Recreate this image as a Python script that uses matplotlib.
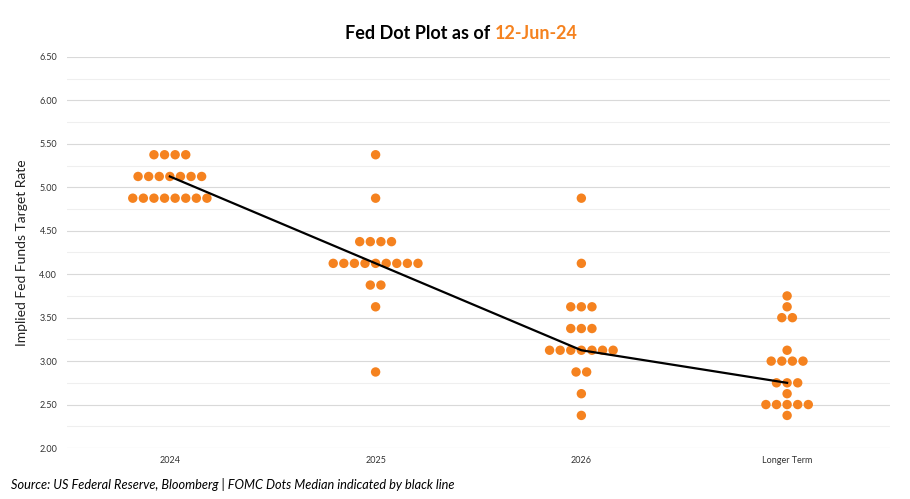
import numpy as np
import matplotlib
matplotlib.use("Agg")
import matplotlib.pyplot as plt
from matplotlib.ticker import MultipleLocator, FormatStrFormatter

categories = ["2024", "2025", "2026", "Longer Term"]
# (rate, count) pairs per category
dots_2024 = [(5.375, 4), (5.125, 7), (4.875, 8)]
dots_2025 = [(5.375, 1), (4.875, 1), (4.375, 4), (4.125, 9), (3.875, 2), (3.625, 1), (2.875, 1)]
dots_2026 = [(4.875, 1), (4.125, 1), (3.625, 3), (3.375, 3), (3.125, 7), (2.875, 2), (2.625, 1), (2.375, 1)]
dots_longer = [(3.75, 1), (3.625, 1), (3.5, 2), (3.125, 1), (3.0, 4), (2.75, 3), (2.625, 1), (2.5, 5), (2.375, 1)]
all_dots = [dots_2024, dots_2025, dots_2026, dots_longer]

ORANGE = "#F5821F"
plt.rcParams['font.family'] = ['Lato', 'DejaVu Sans']

fig = plt.figure(figsize=(9.1, 4.99), dpi=100)
ax = fig.add_axes([0.0736, 0.1022, 0.9044, 0.7836])

medians = []
for ci, col in enumerate(all_dots):
    vals = []
    for rate, n in col:
        offs = (np.arange(n) - (n - 1) / 2) * 0.0515
        ax.scatter(ci + offs, [rate] * n, s=46, color=ORANGE, edgecolors='none', zorder=3)
        vals += [rate] * n
    medians.append(np.median(vals))

ax.plot(range(len(categories)), medians, color='black', lw=1.6, zorder=4)

ax.set_xlim(-0.5, 3.5)
ax.set_ylim(2.0, 6.5)
ax.set_xticks(range(len(categories)))
ax.set_xticklabels(categories, fontsize=6.5, color='#333333')
ax.yaxis.set_major_locator(MultipleLocator(0.5))
ax.yaxis.set_minor_locator(MultipleLocator(0.25))
ax.yaxis.set_major_formatter(FormatStrFormatter('%.2f'))
ax.tick_params(axis='y', labelsize=6.5, labelcolor='#333333', length=0, pad=7, which='both')
ax.tick_params(axis='x', length=0, pad=6)
ax.grid(axis='y', which='major', color='#d9d9d9', lw=0.8, zorder=0)
ax.grid(axis='y', which='minor', color='#efefef', lw=0.8, zorder=0)
for s in ax.spines.values():
    s.set_visible(False)
ax.set_axisbelow(True)

ax.set_ylabel("Implied Fed Funds Target Rate", fontsize=10, color='#222222', labelpad=8)

# Title in two colours
t1 = fig.text(0.379, 0.933, "Fed Dot Plot as of", fontsize=13, fontweight='bold', color='black', va='center')
fig.canvas.draw()
bb = t1.get_window_extent()
x2 = (bb.x1 + 5) / fig.bbox.width
fig.text(x2, 0.933, "12-Jun-24", fontsize=13, fontweight='bold', color=ORANGE, va='center')

fig.text(0.012, 0.03, "Source: US Federal Reserve, Bloomberg | FOMC Dots Median indicated by black line",
         fontsize=9.2, style='italic', color='black', va='center')

fig.savefig("out.png", dpi=100, facecolor='white')
